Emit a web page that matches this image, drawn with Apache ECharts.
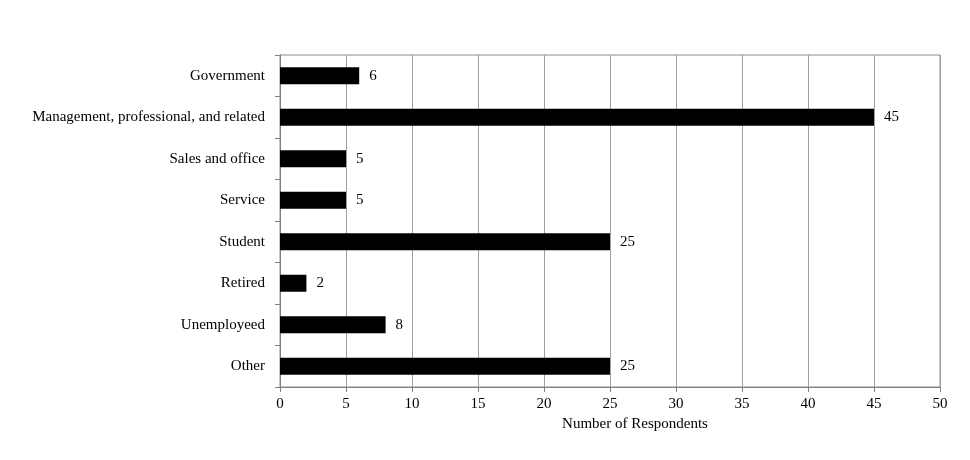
<!DOCTYPE html>
<html>
<head>
<meta charset="utf-8">
<script src="https://cdn.jsdelivr.net/npm/echarts@6/dist/echarts.min.js"></script>
<style>
  html, body { margin: 0; padding: 0; background: #fff; }
  #Respondents { width: 970px; height: 460px; }
</style>
</head>
<body>
<div id="Respondents"></div>
<script>
  // occupation categories, top to bottom
  var categories = ['Government', 'Management, professional, and related', 'Sales and office', 'Service', 'Student', 'Retired', 'Unemployeed', 'Other']
  var respondents = [6, 45, 5, 5, 25, 2, 8, 25]

  var font = 'Liberation Serif'
  var chart = echarts.init(document.getElementById('Respondents'))
  chart.setOption({
    animation: false,
    grid: {
      left: 280,
      right: 30,
      top: 55,
      bottom: 73,
      show: true,
      borderColor: '#8c8c8c',
      borderWidth: 1
    },
    xAxis: {
      type: 'value',
      min: 0,
      max: 50,
      interval: 5,
      name: 'Number of Respondents',
      nameLocation: 'middle',
      nameGap: 30,
      nameTextStyle: { fontFamily: font, fontSize: 15, color: '#000', padding: [0, 0, 0, 50] },
      axisLine: { show: true, lineStyle: { color: '#808080' } },
      axisTick: { show: true, length: 5, lineStyle: { color: '#808080' } },
      axisLabel: { fontFamily: font, fontSize: 15, color: '#000', margin: 10 },
      splitLine: { show: true, lineStyle: { color: '#a0a0a0', width: 1 } }
    },
    yAxis: {
      type: 'category',
      inverse: true,
      data: categories,
      axisLine: { show: true, lineStyle: { color: '#808080' } },
      axisTick: { show: true, length: 5, lineStyle: { color: '#808080' } },
      axisLabel: { fontFamily: font, fontSize: 15, color: '#000', margin: 15 },
      splitLine: { show: false }
    },
    series: [
      {
        type: 'bar',
        data: respondents,
        barWidth: 17,
        itemStyle: { color: '#000' },
        label: {
          show: true,
          position: 'right',
          distance: 10,
          fontFamily: font,
          fontSize: 15,
          color: '#000'
        }
      }
    ]
  })
</script>
</body>
</html>
